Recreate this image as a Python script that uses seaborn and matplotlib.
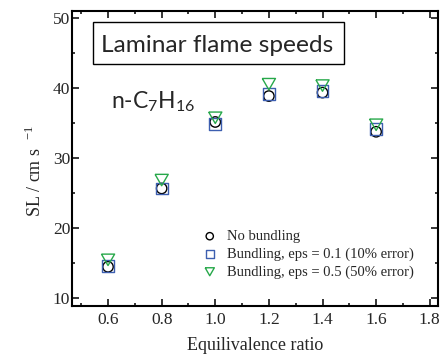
import matplotlib
matplotlib.use("Agg")
import matplotlib.pyplot as plt
from matplotlib.patches import Rectangle
from matplotlib.ticker import MultipleLocator, FormatStrFormatter
import seaborn as sns

# Equivalence ratios and laminar flame speeds (cm/s)
phi = [0.6, 0.8, 1.0, 1.2, 1.4, 1.6]
sl_no_bundling = [14.5, 25.7, 35.2, 38.9, 39.4, 33.8]
sl_eps_01 = [14.6, 25.7, 34.9, 39.2, 39.6, 34.2]
sl_eps_05 = [15.5, 26.9, 35.8, 40.6, 40.4, 34.8]

labels = ["No bundling",
          "Bundling, eps = 0.1 (10% error)",
          "Bundling, eps = 0.5 (50% error)"]

sns.set_style("ticks")
plt.rcParams["font.family"] = ["Liberation Serif", "DejaVu Serif"]
plt.rcParams["mathtext.fontset"] = "custom"
plt.rcParams["mathtext.rm"] = "Liberation Serif"
plt.rcParams["mathtext.sf"] = "Lato"

fig = plt.figure(figsize=(4.44, 3.59), dpi=100)
ax = fig.add_axes([0.163, 0.1476, 0.823, 0.8226])

# equilateral, downward-pointing triangle
tri_down = [(-1.0, 0.866), (1.0, 0.866), (0.0, -0.866), (-1.0, 0.866)]

series = [
    (sl_no_bundling, "o", "black", 56, labels[0]),
    (sl_eps_01, "s", "#3d5fb0", 72, labels[1]),
    (sl_eps_05, tri_down, "#27a84a", 90, labels[2]),
]
for values, marker, color, size, label in series:
    sns.scatterplot(x=phi, y=values, marker=marker, s=size, color=color,
                    facecolor="none", edgecolor=color, linewidth=1.0,
                    label=label, ax=ax, zorder=3)

ax.set_xlim(0.467, 1.83)
ax.set_ylim(8.9, 51.1)
ax.xaxis.set_major_locator(MultipleLocator(0.2))
ax.xaxis.set_minor_locator(MultipleLocator(0.1))
ax.yaxis.set_major_locator(MultipleLocator(10))
ax.yaxis.set_minor_locator(MultipleLocator(5))
ax.xaxis.set_major_formatter(FormatStrFormatter("%.1f"))

for sp in ax.spines.values():
    sp.set_visible(True)
    sp.set_linewidth(1.5)
    sp.set_color("black")
ax.tick_params(which="both", direction="in", top=True, right=True,
               color="black", width=1.1)
ax.tick_params(which="major", length=5)
ax.tick_params(which="minor", length=2.5)
ax.tick_params(axis="x", which="major", labelsize=12.5, pad=4.5)
ax.tick_params(axis="y", which="major", labelsize=12.5, pad=1.5)

ax.set_xlabel("Equilivalence ratio", fontsize=13, labelpad=6)
ax.set_ylabel("SL / cm s  $^{-1}$", fontsize=13, labelpad=6)
ax.yaxis.label.set_y(0.457)

# Title box and species label
ax.add_patch(Rectangle((0.0575, 0.818), 0.687, 0.1427, transform=ax.transAxes,
                       facecolor="white", edgecolor="black", linewidth=1.0,
                       zorder=4))
ax.text(0.0789, 0.859, "Laminar flame speeds", transform=ax.transAxes,
        family="Lato", fontsize=17.6, va="baseline", ha="left", zorder=5)
ax.text(0.106, 0.6695, "n-C$_\\mathsf{7}$H$_\\mathsf{16}$", transform=ax.transAxes,
        family="Lato", fontsize=16.5, va="baseline", ha="left", zorder=5)

ax.legend(loc="upper left", bbox_to_anchor=(0.356, 0.258), frameon=False,
          fontsize=10.5, markerscale=0.7, handlelength=1.0,
          handletextpad=0.7, labelspacing=0.3, borderpad=0, borderaxespad=0)

fig.savefig("out.png", dpi=100)
